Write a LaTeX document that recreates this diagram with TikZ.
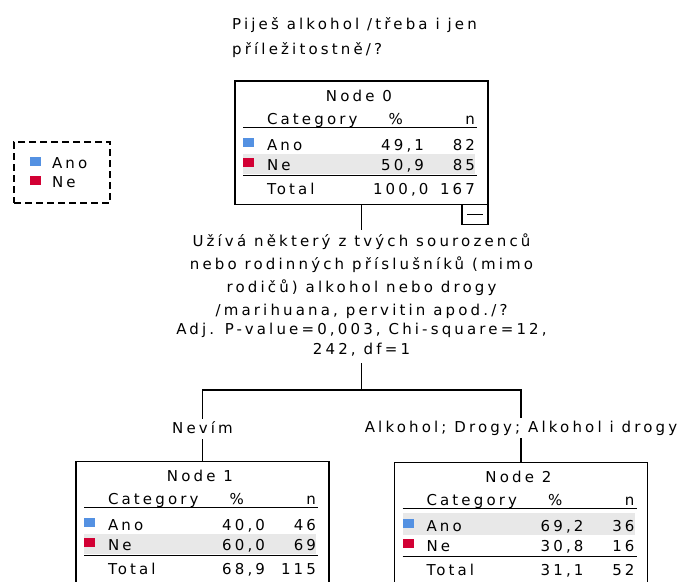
\documentclass[tikz,border=0pt]{standalone}
\usepackage{fontspec}
\setmainfont{DejaVu Sans}[LetterSpace=21]
\usepackage{array,colortbl}
\usetikzlibrary{positioning}

\definecolor{anoblue}{RGB}{84,145,226}
\definecolor{nered}{RGB}{210,0,52}
\definecolor{rowgray}{RGB}{232,232,232}
\setlength{\arrayrulewidth}{1pt}

\newcommand{\catsq}[2][24pt]{\makebox[#1][l]{\textcolor{#2}{\rule[3pt]{11pt}{9pt}}}}
\newcommand{\nodetable}[9]{%
  \kern8pt{\renewcommand{\arraystretch}{0}\setlength{\tabcolsep}{0pt}%
  \begin{tabular}{@{}p{130pt}@{}>{\raggedleft\arraybackslash}p{51pt}@{}>{\raggedleft\arraybackslash}p{51pt}@{\hspace{2pt}}}
    \multicolumn{3}{@{}c@{\hspace{2pt}}}{\rule[-3pt]{0pt}{23pt}#1}\\
    \hspace{24pt}Category & \%\kern21pt & n\rule[-3pt]{0pt}{23pt}\\
    \hline\noalign{\vskip4pt}
    \rowcolor{#8}\catsq{anoblue}Ano & #2 & #3\rule[-4pt]{0pt}{22pt}\\
    \rowcolor{#9}\catsq{nered}Ne & #4 & #5\rule[-4pt]{0pt}{20pt}\\
    \noalign{\vskip1pt}\hline
    \hspace{24pt}Total & #6 & #7\rule[-10pt]{0pt}{28pt}\\
  \end{tabular}}\kern11pt}

\begin{document}
\begin{tikzpicture}[x=1pt, y=-1pt,
  font=\fontsize{15}{19}\selectfont,
  tree/.style={draw, line width=1.2pt, inner sep=0pt, outer sep=0pt},
  collapse/.style={draw, line width=1.2pt, minimum width=26pt, minimum height=20pt, inner sep=0pt, outer sep=0pt},
  question/.style={align=center, inner sep=3pt, font=\fontsize{15}{23.3}\selectfont},
  branch/.style={inner xsep=0pt, inner ysep=2pt, text height=12pt, text depth=4pt},
  legend/.style={draw, line width=1.2pt, dash pattern=on 7pt off 4pt, minimum width=96pt, minimum height=61pt, text width=64pt, inner xsep=16pt, align=left},
  conn/.style={line width=1.2pt}
]
\useasboundingbox (0,0) rectangle (680,581);

\node[legend] (leg) at (62,172.5) {\catsq[22pt]{anoblue}Ano\\\catsq[22pt]{nered}Ne};

\node[align=left, anchor=north west, inner sep=0pt, font=\fontsize{15}{25}\selectfont] (q0) at (232,17) {Piješ alkohol /třeba i jen\\příležitostně/?};

\node[tree, anchor=north] (n0) at (361.5,81) {\nodetable{Node 0}{49,1}{82}{50,9}{85}{100,0}{167}{white}{rowgray}};
\node[collapse, anchor=north east] (c0) at (n0.south east) {\rule{16pt}{1.2pt}};

\node[question, below=26pt of n0] (q1) {Užívá některý z tvých sourozenců\\nebo rodinných příslušníků (mimo\\rodičů) alkohol nebo drogy\\/marihuana, pervitin apod./?\\[-5pt]Adj. P-value=0,003, Chi-square=12,\\[-3pt]242, df=1};
\coordinate (split) at (361.5,390);

\node[branch, anchor=base] (l1) at (202.5,433) {Nevím};
\node[branch, anchor=base] (l2) at (521,432) {Alkohol; Drogy; Alkohol i drogy};
\node[tree, below=22pt of l1] (n1) {\nodetable{Node 1}{40,0}{46}{60,0}{69}{68,9}{115}{white}{rowgray}};
\node[tree, below=24pt of l2] (n2) {\nodetable{Node 2}{69,2}{36}{30,8}{16}{31,1}{52}{rowgray}{white}};

\draw[conn] (n0) -- (q1);
\draw[conn, shorten <=4pt] (q1) -- (split);
\draw[conn] (split) -| (l1);
\draw[conn] (split) -| (l2);
\draw[conn] (l1) -- (n1);
\draw[conn] (l2) -- (n2);
\end{tikzpicture}
\end{document}
